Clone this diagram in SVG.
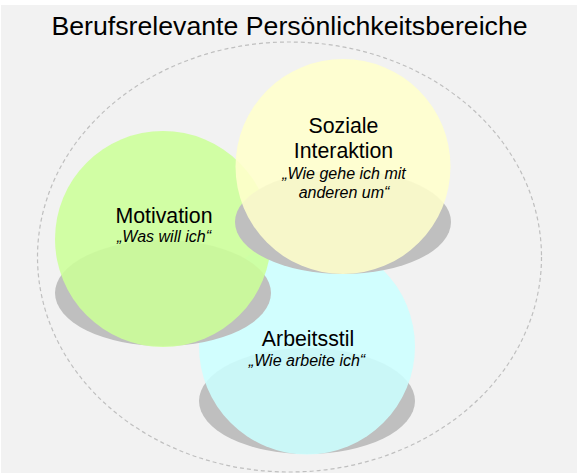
<svg xmlns="http://www.w3.org/2000/svg" width="578" height="475" viewBox="0 0 578 475">
<style>
.bg{fill:#f2f2f2}
.ring{fill:none;stroke:#bfbfbf;stroke-width:1.2;stroke-dasharray:4 3}
.sh{fill:#bfbfbf}
.c{opacity:0.88}
.t{font-family:"Liberation Sans",Arial,sans-serif;fill:#000;text-anchor:middle}
.h{font-size:21.3px}
.s{font-size:16px;font-style:italic}
</style>
<rect class="bg" x="1" y="5" width="576" height="468"/>
<text class="t" x="289.5" y="35" font-size="26.7">Berufsrelevante Persönlichkeitsbereiche</text>
<g id="connectors">
<ellipse class="ring" cx="289.5" cy="257" rx="252" ry="215"/>
</g>
<g id="arbeitsstil">
<ellipse class="sh" cx="307" cy="401" rx="108" ry="53"/>
<circle class="c" cx="307" cy="346.5" r="108" fill="#ccffff"/>
<text class="t h" x="308" y="346">Arbeitsstil</text>
<text class="t s" x="307" y="366">„Wie arbeite ich“</text>
</g>
<g id="motivation">
<ellipse class="sh" cx="163" cy="293" rx="108" ry="53"/>
<circle class="c" cx="163" cy="239" r="108" fill="#ccff99"/>
<text class="t h" x="164" y="223">Motivation</text>
<text class="t s" x="164" y="242">„Was will ich“</text>
</g>
<g id="soziale">
<ellipse class="sh" cx="343" cy="222" rx="108" ry="52"/>
<circle class="c" cx="343" cy="166.5" r="107.5" fill="#ffffcc"/>
<text class="t h" x="343.5" y="133">Soziale</text>
<text class="t h" x="343.5" y="158">Interaktion</text>
<text class="t s" x="344" y="179">„Wie gehe ich mit</text>
<text class="t s" x="344" y="198">anderen um“</text>
</g>
</svg>
